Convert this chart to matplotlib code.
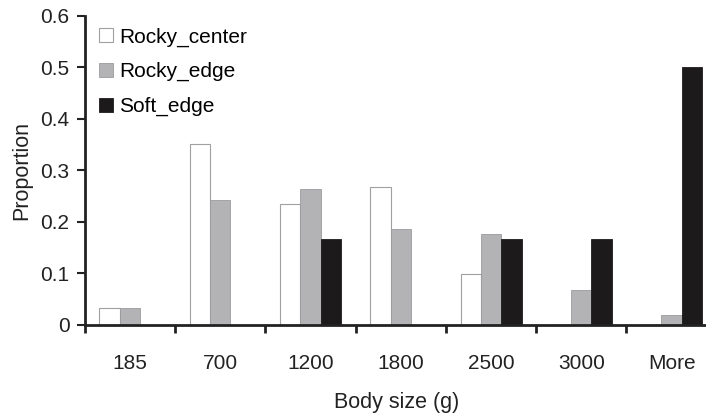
import numpy as np
import matplotlib.pyplot as plt

plt.rcParams['font.family'] = ['Liberation Sans', 'DejaVu Sans']

sizes = ['185', '700', '1200', '1800', '2500', '3000', 'More']
rocky_center = [0.033, 0.351, 0.235, 0.268, 0.098, 0.0, 0.0]
rocky_edge = [0.033, 0.243, 0.264, 0.187, 0.177, 0.067, 0.019]
soft_edge = [0.0, 0.0, 0.167, 0.0, 0.167, 0.167, 0.5]

fig = plt.figure(figsize=(7.06, 4.17), dpi=100)
ax = fig.add_axes([0.12, 0.221, 0.885, 0.741])

x = np.arange(len(sizes))
w = 0.225
ax.bar(x - w, rocky_center, w, color='white', edgecolor='#a0a0a0', linewidth=0.8, label='Rocky_center')
ax.bar(x, rocky_edge, w, color='#b3b3b6', edgecolor='#9a9a9c', linewidth=0.6, label='Rocky_edge')
ax.bar(x + w, soft_edge, w, color='#1c1a1b', edgecolor='#1c1a1b', linewidth=0.6, label='Soft_edge')

ax.set_xlim(-0.5, 6.42)
ax.set_ylim(0, 0.6)
ax.set_yticks([0, 0.1, 0.2, 0.3, 0.4, 0.5, 0.6])
ax.set_yticklabels(['0', '0.1', '0.2', '0.3', '0.4', '0.5', '0.6'])
ax.set_xticks(x)
ax.set_xticklabels(sizes)
ax.set_xticks(np.arange(-0.5, 6.5, 1), minor=True)
ax.tick_params(axis='x', which='major', length=0, pad=21, labelsize=15, colors='#222222')
ax.tick_params(axis='x', which='minor', length=6, width=2, direction='out', color='#222222')
ax.tick_params(axis='y', length=6, width=1.5, direction='out', labelsize=15, colors='#222222', pad=5)

for s in ['top', 'right']:
    ax.spines[s].set_visible(False)
for s in ['left', 'bottom']:
    ax.spines[s].set_linewidth(2)
    ax.spines[s].set_color('#222222')

ax.set_xlabel('Body size (g)', fontsize=15.5, color='#222222', labelpad=14)
ax.set_ylabel('Proportion', fontsize=15.5, color='#222222', labelpad=6)

ax.legend(loc='upper left', bbox_to_anchor=(0.0, 1.01), frameon=False, fontsize=15,
          handlelength=0.65, handleheight=0.65, handletextpad=0.3, labelspacing=0.75,
          borderaxespad=0.3)

fig.savefig('out.png', dpi=100)
